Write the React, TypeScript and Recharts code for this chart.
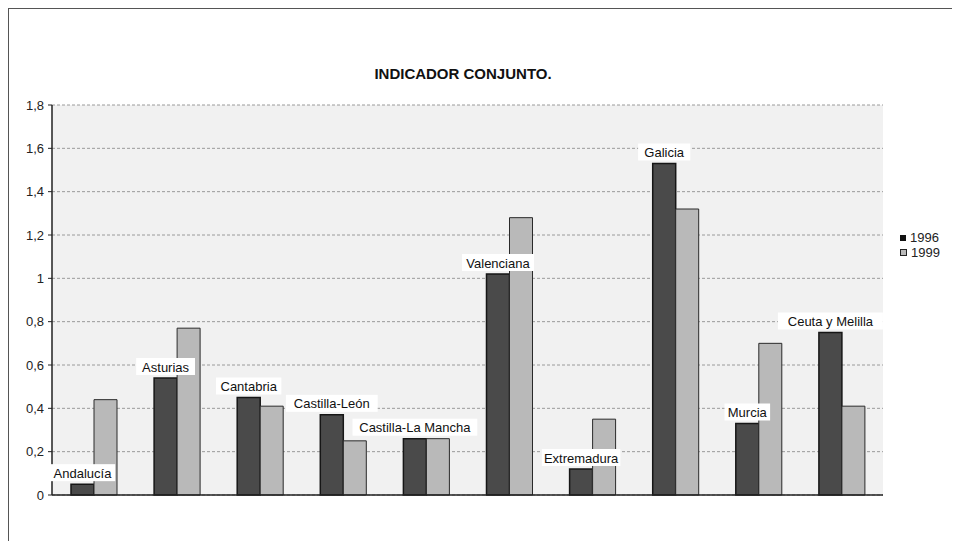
import { BarChart, Bar, XAxis, YAxis, CartesianGrid, LabelList } from 'recharts';

const regions = [
  'Andalucía',
  'Asturias',
  'Cantabria',
  'Castilla-León',
  'Castilla-La Mancha',
  'Valenciana',
  'Extremadura',
  'Galicia',
  'Murcia',
  'Ceuta y Melilla',
];
const values1996 = [0.05, 0.54, 0.45, 0.37, 0.26, 1.02, 0.12, 1.53, 0.33, 0.75];
const values1999 = [0.44, 0.77, 0.41, 0.25, 0.26, 1.28, 0.35, 1.32, 0.7, 0.41];
const yTicks = [0, 0.2, 0.4, 0.6, 0.8, 1, 1.2, 1.4, 1.6, 1.8];

const data = regions.map((name, i) => ({ name, y1996: values1996[i], y1999: values1999[i] }));

const FONT = '"Liberation Sans", Arial, sans-serif';
const DARK = '#4a4a4a';
const LIGHT = '#b9b9b9';

const fmt = (v: number) => String(Math.round(v * 10) / 10).replace('.', ',');

// region name sits above the 1996 bar; drawn from the 1999 series so it paints over both bars
function RegionLabel(props: any) {
  const { x, y, width, height, index } = props;
  const row = data[index];
  if (!row) return null;
  const bottom = y + height;
  const perUnit = height / row.y1999;
  const top1996 = bottom - row.y1996 * perUnit;
  const cx = x - width / 2;
  const cy = top1996 - 11;
  const w = row.name.length * 6.6 + 6;
  return (
    <g>
      <rect x={cx - w / 2} y={cy - 9} width={w} height={17} fill="#fff" />
      <text x={cx} y={cy} textAnchor="middle" dominantBaseline="central" fontFamily={FONT} fontSize={13} fill="#111">
        {row.name}
      </text>
    </g>
  );
}

export default function App() {
  return (
    <div
      style={{
        position: 'relative',
        width: 952,
        height: 532,
        borderTop: '1px solid #555',
        borderLeft: '1px solid #555',
        background: '#fff',
        fontFamily: FONT,
      }}
    >
      <div
        style={{
          position: 'absolute',
          left: 0,
          width: 908,
          top: 56,
          textAlign: 'center',
          fontWeight: 'bold',
          fontSize: 15,
          color: '#111',
        }}
      >
        INDICADOR CONJUNTO.
      </div>
      <BarChart
        width={944}
        height={530}
        data={data}
        margin={{ top: 96, right: 70, bottom: 43, left: 0 }}
        barSize={23}
        barGap={0}
      >
        <CartesianGrid vertical={false} fill="#f1f1f1" stroke="#9a9a9a" strokeDasharray="3 2" />
        <XAxis dataKey="name" tick={false} tickLine={false} height={1} axisLine={{ stroke: '#222', strokeWidth: 1.5 }} />
        <XAxis xAxisId="top" dataKey="name" orientation="top" tick={false} tickLine={false} height={0} axisLine={{ stroke: '#444', strokeDasharray: '3 1' }} />
        <YAxis
          domain={[0, 1.8]}
          ticks={yTicks}
          width={43}
          tickFormatter={fmt}
          tickSize={4}
          tickMargin={4}
          tick={{ fontFamily: FONT, fontSize: 13, fill: '#222' }}
          axisLine={{ stroke: '#222', strokeWidth: 1.5 }}
          tickLine={{ stroke: '#222' }}
        />
        <YAxis yAxisId="right" orientation="right" domain={[0, 1.8]} tick={false} tickLine={false} width={0} axisLine={{ stroke: '#444', strokeDasharray: '3 1' }} />
        <Bar dataKey="y1996" name="1996" fill={DARK} stroke="#161616" strokeWidth={1.5} isAnimationActive={false} />
        <Bar dataKey="y1999" name="1999" fill={LIGHT} stroke="#2a2a2a" strokeWidth={1} isAnimationActive={false}>
          <LabelList dataKey="name" content={RegionLabel} />
        </Bar>
      </BarChart>
      <div
        style={{
          position: 'absolute',
          left: 887,
          top: 219,
          background: '#fff',
          padding: '2px 4px',
          fontSize: 13,
          lineHeight: '15px',
          color: '#222',
        }}
      >
        <div style={{ display: 'flex', alignItems: 'center' }}>
          <span style={{ width: 6, height: 6, background: '#111', marginRight: 4, display: 'inline-block' }} />
          1996
        </div>
        <div style={{ display: 'flex', alignItems: 'center' }}>
          <span style={{ width: 5, height: 5, background: LIGHT, border: '1px solid #222', marginRight: 4, display: 'inline-block' }} />
          1999
        </div>
      </div>
    </div>
  );
}
